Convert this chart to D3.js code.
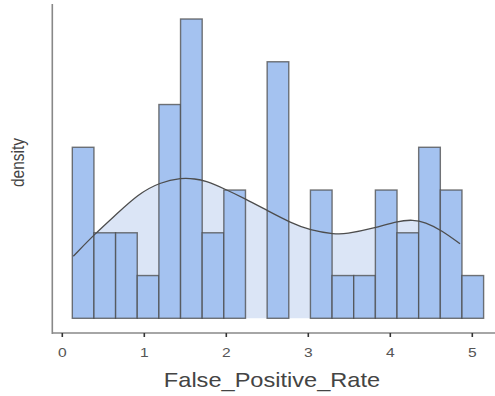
<!DOCTYPE html>
<html>
<head>
<meta charset="utf-8">
<script src="https://cdn.jsdelivr.net/npm/d3@7"></script>
<style>
  body { margin: 0; background: #fff; }
  text { font-family: "Liberation Sans", Arial, sans-serif; }
</style>
</head>
<body>
<script>
const w = 495;
const h = 396;

// histogram: counts per bin (19 bins starting at binStart)
const binStart = 0.122;
const binWidth = 0.264;
const counts = [4, 2, 2, 1, 5, 7, 2, 3, 0, 6, 0, 3, 1, 1, 3, 2, 4, 3, 1];
const n = d3.sum(counts);

// density curve
const densX = [0.134, 0.40, 0.643, 0.923, 1.19, 1.456, 1.62, 1.74, 1.985, 2.228, 2.512, 2.777, 3.02, 3.326, 3.448, 3.813, 4.078, 4.28, 4.423, 4.627, 4.85];
const densY = [0.110, 0.150, 0.182, 0.220, 0.241, 0.249, 0.247, 0.244, 0.229, 0.212, 0.190, 0.170, 0.156, 0.149, 0.149, 0.160, 0.172, 0.175, 0.170, 0.156, 0.132];

const xTicks = [0, 1, 2, 3, 4, 5];

const bins = counts.map((c, i) => ({
	x0: binStart + i * binWidth,
	x1: binStart + (i + 1) * binWidth,
	density: c / (n * binWidth)
}));
const dens = densX.map((x, i) => [x, densY[i]]);

const xScale = d3.scaleLinear().domain([0, 5]).range([62.3, 472.3]);
const yScale = d3
	.scaleLinear()
	.domain([0, d3.max(bins, (d) => d.density)])
	.range([318.3, 19]);

const svg = d3.select("body").append("svg").attr("width", w).attr("height", h);

// density area
svg
	.append("path")
	.datum(dens)
	.attr("fill", "#dbe5f6")
	.attr(
		"d",
		d3
			.area()
			.x((d) => xScale(d[0]))
			.y0(yScale(0))
			.y1((d) => yScale(d[1]))
			.curve(d3.curveBasis)
	);

// bars
svg
	.selectAll("rect.bar")
	.data(bins)
	.enter()
	.append("rect")
	.attr("class", "bar")
	.attr("x", (d) => xScale(d.x0))
	.attr("width", (d) => xScale(d.x1) - xScale(d.x0))
	.attr("y", (d) => yScale(d.density))
	.attr("height", (d) => yScale(0) - yScale(d.density))
	.attr("fill", "#a4c2f0")
	.attr("stroke", "#4a4a4a")
	.attr("stroke-opacity", 0.75)
	.attr("stroke-width", 1.4);

// density line
svg
	.append("path")
	.datum(dens)
	.attr("fill", "none")
	.attr("stroke", "#4d4d4d")
	.attr("stroke-width", 1.3)
	.attr(
		"d",
		d3
			.line()
			.x((d) => xScale(d[0]))
			.y((d) => yScale(d[1]))
			.curve(d3.curveBasis)
	);

// x axis
const xAxis = svg.append("g").attr("transform", "translate(0, 333)");
xAxis
	.append("line")
	.attr("x1", 52)
	.attr("x2", w)
	.attr("stroke", "#888")
	.attr("stroke-width", 1.6);
xAxis
	.selectAll("line.tick")
	.data(xTicks)
	.enter()
	.append("line")
	.attr("class", "tick")
	.attr("x1", (d) => xScale(d))
	.attr("x2", (d) => xScale(d))
	.attr("y1", 0)
	.attr("y2", 4)
	.attr("stroke", "#333")
	.attr("stroke-width", 1.6);
// the reference text looks stretched sideways a little
xAxis
	.selectAll("text")
	.data(xTicks)
	.enter()
	.append("text")
	.attr("transform", (d) => `translate(${xScale(d)}, 24) scale(1.2, 1)`)
	.attr("text-anchor", "middle")
	.attr("font-size", 13)
	.attr("fill", "#555")
	.text((d) => d);

// y axis
svg
	.append("line")
	.attr("x1", 52.3)
	.attr("x2", 52.3)
	.attr("y1", 4)
	.attr("y2", 334)
	.attr("stroke", "#888")
	.attr("stroke-width", 1.6);

svg
	.append("text")
	.attr("transform", "translate(272, 387) scale(1.18, 1)")
	.attr("text-anchor", "middle")
	.attr("font-size", 20)
	.attr("fill", "#444")
	.text("False_Positive_Rate");

svg
	.append("text")
	.attr("transform", "translate(24, 162.5) rotate(-90) scale(0.86, 1)")
	.attr("text-anchor", "middle")
	.attr("font-size", 18)
	.attr("fill", "#444")
	.text("density");
</script>
</body>
</html>
